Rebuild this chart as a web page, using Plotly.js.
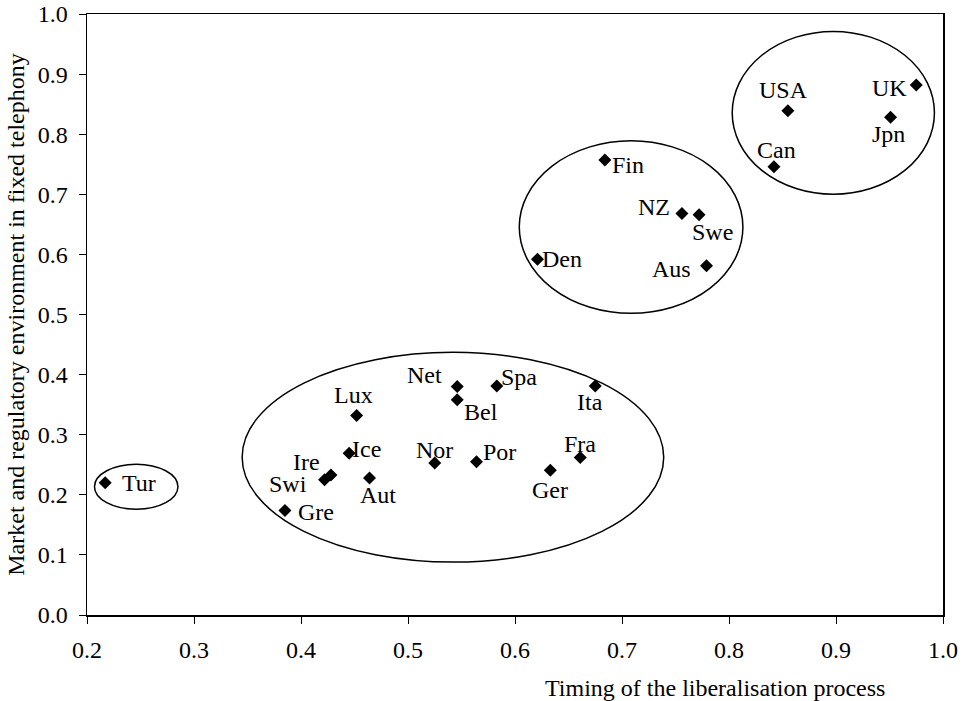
<!DOCTYPE html>
<html>
<head>
<meta charset="utf-8">
<script src="https://cdn.plot.ly/plotly-3.0.1.min.js"></script>
<style>html,body{margin:0;padding:0;background:#fff;}#chart{width:964px;height:701px;}</style>
</head>
<body>
<div id="chart"></div>
<script>
// Data
const countries = ["Tur","Gre","Swi","Ire","Ice","Lux","Aut","Nor","Net","Bel","Por","Spa","Ger","Fra","Ita","Den","Fin","NZ","Swe","Aus","Can","USA","Jpn","UK"];
const timing    = [0.217,0.385,0.422,0.428,0.445,0.452,0.464,0.525,0.546,0.546,0.564,0.583,0.633,0.661,0.675,0.621,0.684,0.756,0.772,0.779,0.842,0.855,0.951,0.975];
const marketEnv = [0.220,0.174,0.225,0.233,0.269,0.332,0.228,0.253,0.380,0.358,0.255,0.381,0.241,0.262,0.381,0.592,0.757,0.668,0.666,0.581,0.746,0.839,0.828,0.882];
// Label offsets from their marker, in screen pixels (right, down)
const labelDx = [34, 31,-37,-24, 17, -3,  9,  0,-33, 24, 23, 22,  0,  0, -5, 25, 23,-28, 13,-35,  3, -4, -2,-27];
const labelDy = [ 0,  2,  4,-13, -4,-20, 17,-13,-12, 12,-10, -9, 20,-14, 16,  0,  5, -7, 17,  3,-17,-21, 17,  3];
// Cluster ellipses [x0, x1, y0, y1]
const clusterX0 = [0.207, 0.345, 0.604, 0.803];
const clusterX1 = [0.285, 0.739, 0.813, 0.992];
const clusterY0 = [0.176, 0.088, 0.502, 0.700];
const clusterY1 = [0.251, 0.437, 0.789, 0.971];
const xTicks = [0.2,0.3,0.4,0.5,0.6,0.7,0.8,0.9,1.0];
const yTicks = [0.0,0.1,0.2,0.3,0.4,0.5,0.6,0.7,0.8,0.9,1.0];

const font = "'Liberation Serif', serif";

const trace = {
  x: timing, y: marketEnv, text: countries,
  type: "scatter", mode: "markers",
  marker: {symbol: "diamond", size: 10, color: "#000"},
  cliponaxis: false, hoverinfo: "text"
};

const shapes = clusterX0.map((x0, i) => ({
  type: "circle", xref: "x", yref: "y",
  x0: x0, x1: clusterX1[i], y0: clusterY0[i], y1: clusterY1[i],
  line: {color: "#000", width: 1.5}
}));

const labels = countries.map((c, i) => ({
  text: c, xref: "x", yref: "y", x: timing[i], y: marketEnv[i],
  xshift: labelDx[i], yshift: -labelDy[i], xanchor: "center", yanchor: "middle",
  showarrow: false, font: {family: font, size: 24, color: "#000"}
}));

const layout = {
  width: 964, height: 701,
  margin: {l: 87, r: 21, t: 14, b: 86},
  paper_bgcolor: "#fff", plot_bgcolor: "#fff",
  showlegend: false,
  font: {family: font, size: 24, color: "#000"},
  xaxis: {
    range: [0.2, 1.0], tickvals: xTicks, ticktext: xTicks.map(v => v.toFixed(1)),
    ticks: "outside", ticklen: 7, tickcolor: "#000", showgrid: false, zeroline: false,
    showline: true, linecolor: "#000", linewidth: 1.5, mirror: true,
    tickfont: {family: font, size: 24}, ticklabelstandoff: 6
  },
  yaxis: {
    range: [0.0, 1.0], tickvals: yTicks, ticktext: yTicks.map(v => v.toFixed(1)),
    ticks: "outside", ticklen: 7, tickcolor: "#000", showgrid: false, zeroline: false,
    showline: true, linecolor: "#000", linewidth: 1.5, mirror: true,
    tickfont: {family: font, size: 24}, ticklabelstandoff: 6,
    title: {text: "Market and regulatory environment in fixed telephony", font: {family: font, size: 24}, standoff: 6}
  },
  shapes: shapes,
  annotations: labels.concat([{
    text: "Timing of the liberalisation process", xref: "paper", yref: "paper",
    x: 0.734, y: 0, yshift: -58, xanchor: "center", yanchor: "top", showarrow: false,
    font: {family: font, size: 24}
  }])
};

Plotly.newPlot("chart", [trace], layout, {displayModeBar: false, staticPlot: true});
</script>
</body>
</html>
